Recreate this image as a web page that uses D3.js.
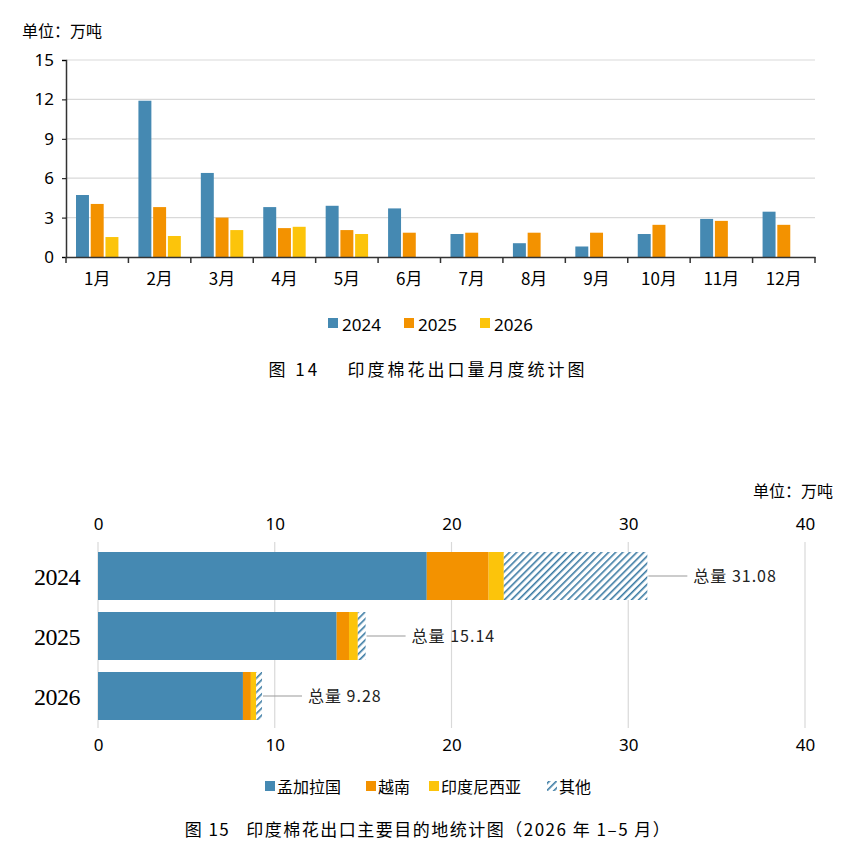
<!DOCTYPE html>
<html>
<head>
<meta charset="utf-8">
<script src="https://d3js.org/d3.v7.min.js"></script>
<style>
  body { margin: 0; background: #fff; }
  text { font-family: "Noto Sans CJK SC", "Noto Sans", sans-serif; }
</style>
</head>
<body>
<div id="chart"></div>
<script>
    // monthly export data (万吨)
    var months = ["1月", "2月", "3月", "4月", "5月", "6月", "7月", "8月", "9月", "10月", "11月", "12月"]
    var years = ["2024", "2025", "2026"]
    var v2024 = [4.72, 11.9, 6.4, 3.8, 3.9, 3.7, 1.75, 1.05, 0.8, 1.75, 2.9, 3.45]
    var v2025 = [4.04, 3.8, 3.0, 2.2, 2.05, 1.85, 1.85, 1.85, 1.85, 2.45, 2.75, 2.45]
    var v2026 = [1.52, 1.6, 2.05, 2.3, 1.75, null, null, null, null, null, null, null]
    var yTicks = [0, 3, 6, 9, 12, 15]

    // destinations (2026 年 1-5 月)
    var destNames = ["孟加拉国", "越南", "印度尼西亚", "其他"]
    var bangladesh = [18.6, 13.5, 8.2]
    var vietnam = [3.5, 0.7, 0.45]
    var indonesia = [0.86, 0.5, 0.3]
    var others = [8.12, 0.44, 0.33]
    var totals = [31.08, 15.14, 9.28]
    var xTicks = [0, 10, 20, 30, 40]

    var colors = ["#4589b2", "#f39200", "#fcc40b"]

    var svg = d3.select("#chart").append("svg")
        .attr("width", 856).attr("height", 844)

    var defs = svg.append("defs")
    var pat = defs.append("pattern").attr("id", "hatch")
        .attr("patternUnits", "userSpaceOnUse").attr("width", 5).attr("height", 5)
        .attr("patternTransform", "rotate(45)")
    pat.append("rect").attr("width", 5).attr("height", 5).attr("fill", "#fff")
    pat.append("line").attr("x1", 0).attr("y1", 0).attr("x2", 0).attr("y2", 5)
        .attr("stroke", "#3a7aa3").attr("stroke-width", 3.2)

    // ---------- chart 14 ----------
    var x0 = d3.scaleBand().domain(months).range([66, 815])
    var x1 = d3.scaleBand().domain(years).range([10, x0.bandwidth() - 10]).paddingInner(0.12)
    var y = d3.scaleLinear().domain([0, 15]).range([257, 60])

    svg.append("text").attr("x", 22).attr("y", 37).attr("font-size", 16).text("单位：万吨")

    yTicks.forEach(function (t) {
        if (t > 0) svg.append("line").attr("x1", 66).attr("x2", 815)
            .attr("y1", y(t)).attr("y2", y(t)).attr("stroke", "#d9d9d9").attr("stroke-width", 1.2)
    })

    var series = [v2024, v2025, v2026]
    months.forEach(function (m, i) {
        series.forEach(function (s, k) {
            if (s[i] == null) return
            svg.append("rect")
                .attr("x", x0(m) + x1(years[k]))
                .attr("y", y(s[i]))
                .attr("width", x1.bandwidth())
                .attr("height", y(0) - y(s[i]))
                .attr("fill", colors[k])
        })
    })

    var gy = svg.append("g").attr("transform", "translate(66,0)")
        .call(d3.axisLeft(y).tickValues(yTicks).tickSize(4).tickPadding(8))
    gy.select(".domain").attr("stroke", "#333").attr("stroke-width", 1.5)
    gy.selectAll("text").attr("font-size", 17).attr("fill", "#000")
        .style("font-family", "Noto Sans, sans-serif")

    var gx = svg.append("g").attr("transform", "translate(0,257)")
        .call(d3.axisBottom(x0).tickSize(0).tickPadding(16))
    gx.select(".domain").attr("stroke", "#333").attr("stroke-width", 1.5)
    gx.selectAll("text").attr("font-size", 17).attr("fill", "#000")
    x0.domain().concat(["end"]).forEach(function (m, i) {
        var xx = i < months.length ? x0(m) : 815
        svg.append("line").attr("x1", xx).attr("x2", xx).attr("y1", 257).attr("y2", 263)
            .attr("stroke", "#333").attr("stroke-width", 1.5)
    })

    var leg = svg.append("g")
    years.forEach(function (yr, k) {
        var lx = 328 + k * 76
        leg.append("rect").attr("x", lx).attr("y", 318).attr("width", 10).attr("height", 10).attr("fill", colors[k])
        leg.append("text").attr("x", lx + 14).attr("y", 331).attr("font-size", 17)
            .style("font-family", "Noto Sans, sans-serif").text(yr)
    })

    svg.append("text").attr("x", 428).attr("y", 376).attr("text-anchor", "middle")
        .attr("font-size", 17).attr("letter-spacing", 3).attr("xml:space", "preserve")
        .text("图 14    印度棉花出口量月度统计图")

    // ---------- chart 15 ----------
    var bx = d3.scaleLinear().domain([0, 40]).range([98, 805])
    var by = d3.scaleBand().domain(years).range([546, 726]).paddingInner(0.2).paddingOuter(0.1)

    svg.append("text").attr("x", 833).attr("y", 497).attr("text-anchor", "end")
        .attr("font-size", 16).text("单位：万吨")

    xTicks.forEach(function (t) {
        svg.append("line").attr("x1", bx(t)).attr("x2", bx(t))
            .attr("y1", 542).attr("y2", 728).attr("stroke", "#d9d9d9").attr("stroke-width", 1.2)
    })

    var gt = svg.append("g").attr("transform", "translate(0,530)")
        .call(d3.axisTop(bx).tickValues(xTicks).tickSize(0).tickPadding(0))
    var gb = svg.append("g").attr("transform", "translate(0,736)")
        .call(d3.axisBottom(bx).tickValues(xTicks).tickSize(0).tickPadding(0))
    ;[gt, gb].forEach(function (g) {
        g.select(".domain").remove()
        g.selectAll("text").attr("font-size", 17).attr("fill", "#000")
            .style("font-family", "Noto Sans, sans-serif")
    })
    gb.selectAll("text").attr("dy", "0.9em")

    var parts = [bangladesh, vietnam, indonesia, others]
    var fills = ["#4589b2", "#f39200", "#fcc40b", "url(#hatch)"]
    years.forEach(function (yr, i) {
        var acc = 0
        parts.forEach(function (p, k) {
            svg.append("rect")
                .attr("x", bx(acc)).attr("y", by(yr))
                .attr("width", bx(acc + p[i]) - bx(acc))
                .attr("height", by.bandwidth())
                .attr("fill", fills[k])
            acc += p[i]
        })
        var cy = by(yr) + by.bandwidth() / 2
        svg.append("line").attr("x1", bx(totals[i]) + 1).attr("x2", bx(totals[i]) + 40)
            .attr("y1", cy).attr("y2", cy).attr("stroke", "#999").attr("stroke-width", 1.2)
        svg.append("text").attr("x", bx(totals[i]) + 46).attr("y", cy + 6)
            .attr("font-size", 16).attr("letter-spacing", 1).attr("fill", "#222")
            .style("font-family", "Noto Sans CJK SC, DejaVu Serif, serif")
            .text("总量 " + totals[i].toFixed(2))
        svg.append("text").attr("x", 80).attr("y", cy + 9).attr("text-anchor", "end")
            .attr("font-size", 24).style("font-family", "Liberation Serif, serif")
            .attr("letter-spacing", -0.5).text(yr)
    })

    var leg2 = svg.append("g")
    var lxs = [265, 366, 429, 547]
    destNames.forEach(function (n, k) {
        leg2.append("rect").attr("x", lxs[k]).attr("y", 781).attr("width", 10).attr("height", 10)
            .attr("fill", fills[k])
        leg2.append("text").attr("x", lxs[k] + 12).attr("y", 793).attr("font-size", 16).text(n)
    })

    svg.append("text").attr("x", 428).attr("y", 836).attr("text-anchor", "middle")
        .attr("font-size", 17).attr("letter-spacing", 1.5).attr("xml:space", "preserve")
        .text("图 15   印度棉花出口主要目的地统计图（2026 年 1–5 月）")
</script>
</body>
</html>
